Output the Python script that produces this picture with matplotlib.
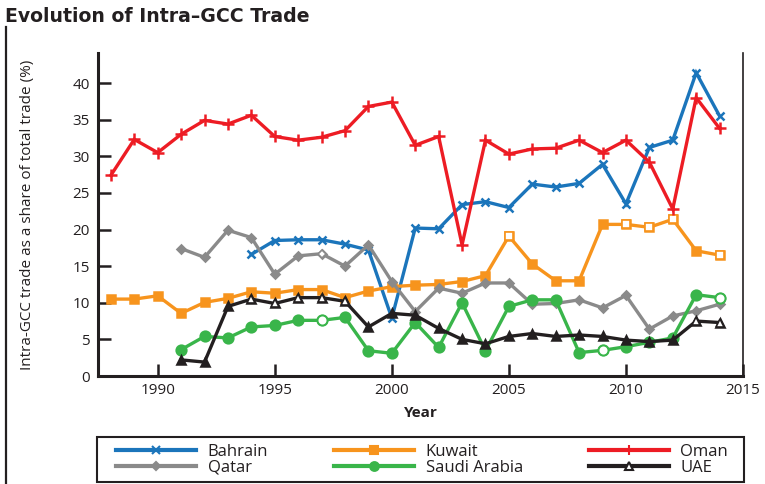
import matplotlib.pyplot as plt
from matplotlib.lines import Line2D
from matplotlib.patches import Rectangle

plt.rcParams['font.family'] = ['Open Sans', 'DejaVu Sans']

# data
years = list(range(1988, 2015))

oman = [27.4, 32.3, 30.5, 33.0, 34.9, 34.4, 35.6, 32.7, 32.2, 32.6, 33.5, 36.8, 37.4,
        31.5, 32.7, 17.9, 32.2, 30.3, 31.0, 31.1, 32.2, 30.5, 32.2, 29.2, 22.8, 38.0, 33.8]
bahrain_years = list(range(1994, 2015))
bahrain = [16.6, 18.5, 18.6, 18.6, 18.0, 17.2, 7.9, 20.2, 20.1, 23.4, 23.8, 23.0, 26.2,
           25.8, 26.3, 28.9, 23.5, 31.2, 32.2, 41.4, 35.5]
kuwait = [10.5, 10.5, 10.95, 8.55, 10.05, 10.6, 11.5, 11.3, 11.8, 11.8, 10.7, 11.6, 12.2,
          12.4, 12.5, 12.9, 13.7, 19.1, 15.3, 13.0, 13.0, 20.7, 20.7, 20.3, 21.4, 17.1, 16.5]
kuwait_hollow = [2005, 2010, 2011, 2012, 2014]
gcc_years = list(range(1991, 2015))
qatar = [17.4, 16.2, 19.9, 18.9, 13.9, 16.4, 16.7, 15.0, 17.9, 12.9, 8.8, 12.0, 11.3,
         12.7, 12.7, 9.8, 9.9, 10.4, 9.3, 11.0, 6.4, 8.2, 8.9, 9.8]
qatar_hollow = [1997]
saudi = [3.6, 5.4, 5.2, 6.7, 6.9, 7.6, 7.6, 8.0, 3.45, 3.1, 7.3, 3.9, 10.0, 3.45, 9.5,
         10.4, 10.4, 3.2, 3.5, 4.0, 4.6, 5.2, 11.1, 10.7]
saudi_hollow = [1997, 2009, 2014]
uae = [2.2, 1.9, 9.5, 10.5, 9.9, 10.7, 10.7, 10.2, 6.7, 8.55, 8.3, 6.5, 5.0, 4.4, 5.4,
       5.8, 5.4, 5.6, 5.4, 4.9, 4.7, 4.9, 7.5, 7.3]
uae_hollow = [1994, 1995, 1996, 1997, 1998, 2013, 2014]

fig = plt.figure(figsize=(7.65, 4.84), dpi=100)
ax = fig.add_axes([98 / 765, 1 - 376 / 484, 645 / 765, 323 / 484])

series = [
    ('Bahrain', bahrain_years, bahrain, '#1b75bb', 'x', []),
    ('Kuwait', years, kuwait, '#f7941d', 's', kuwait_hollow),
    ('Oman', years, oman, '#ed1c24', '+', []),
    ('Qatar', gcc_years, qatar, '#8a8a8a', 'D', qatar_hollow),
    ('Saudi Arabia', gcc_years, saudi, '#39b54a', 'o', saudi_hollow),
    ('UAE', gcc_years, uae, '#231f20', '^', uae_hollow),
]

sizes = {'x': 6, 's': 6, '+': 8, 'D': 4.5, 'o': 7, '^': 6}
handles = {}
for name, xs, ys, color, mk, hollow in series:
    ax.plot(xs, ys, color=color, lw=2.4, marker=mk, ms=sizes[mk], mew=1.8,
            mfc=color, mec=color, solid_joinstyle='miter')
    hx = [x for x in xs if x in hollow]
    hy = [ys[xs.index(x)] for x in hx]
    ax.plot(hx, hy, ls='none', marker=mk, ms=sizes[mk], mew=1.2, mfc='white', mec=color)
    leg_face = 'white' if name == 'UAE' else color
    handles[name] = Line2D([], [], color=color, lw=3, marker=mk, ms=sizes[mk] * 0.9,
                           mew=1.5, mfc=leg_face, mec=color, label=name)

ax.set_xlim(1987.45, 2015)
ax.set_ylim(0, 44.1)
ax.set_xticks([1990, 1995, 2000, 2005, 2010, 2015])
ax.set_yticks([0, 5, 10, 15, 20, 25, 30, 35, 40])

ax.spines['top'].set_visible(False)
ax.spines['left'].set_linewidth(2.2)
ax.spines['bottom'].set_linewidth(2.2)
ax.spines['right'].set_linewidth(1.2)
for s in ax.spines.values():
    s.set_color('#231f20')

ax.tick_params(axis='both', direction='in', length=9, width=1.8, labelsize=11,
               colors='#231f20')
ax.tick_params(axis='x', pad=5)
ax.tick_params(axis='y', pad=6)
ax.tick_params(axis='x', which='major', top=False)
ax.tick_params(axis='y', right=False)

ax.set_ylabel('Intra-GCC trade as a share of total trade (%)', fontsize=11, color='#231f20')
ax.yaxis.set_label_coords(-0.097, 0.5)
ax.set_xlabel('Year', fontsize=11, fontweight='bold', color='#231f20')
ax.xaxis.set_label_coords(0.5, -0.092)

fig.text(0.006, 1 - 17 / 484, 'Evolution of Intra\u2013GCC Trade', fontsize=13.6,
         fontweight='bold', color='#231f20', va='center', ha='left',
         family='DejaVu Sans')

# frame line on the left edge
fig.add_artist(Line2D([0.008, 0.008], [0, 1 - 27 / 484], color='#231f20', lw=1.6))

# legend box drawn on its own so the entries can sit inset from it
fig.add_artist(Rectangle((97 / 765, 2 / 484), 647 / 765, 45 / 484, transform=fig.transFigure,
                         fill=False, edgecolor='#231f20', lw=1.5))

# legend is filled column by column, so order the handles to read row-wise
order = ['Bahrain', 'Qatar', 'Kuwait', 'Saudi Arabia', 'Oman', 'UAE']
leg = fig.legend(handles=[handles[n] for n in order], ncol=3, loc='center', mode='expand',
                 bbox_to_anchor=(116 / 765, 2 / 484, 612 / 765, 45 / 484),
                 frameon=False, fontsize=12, handlelength=4.8, handletextpad=0.7,
                 numpoints=1, borderpad=0, labelspacing=0.0, columnspacing=1.5,
                 borderaxespad=0)
for t in leg.get_texts():
    t.set_color('#231f20')

fig.savefig('out.png', dpi=100)
